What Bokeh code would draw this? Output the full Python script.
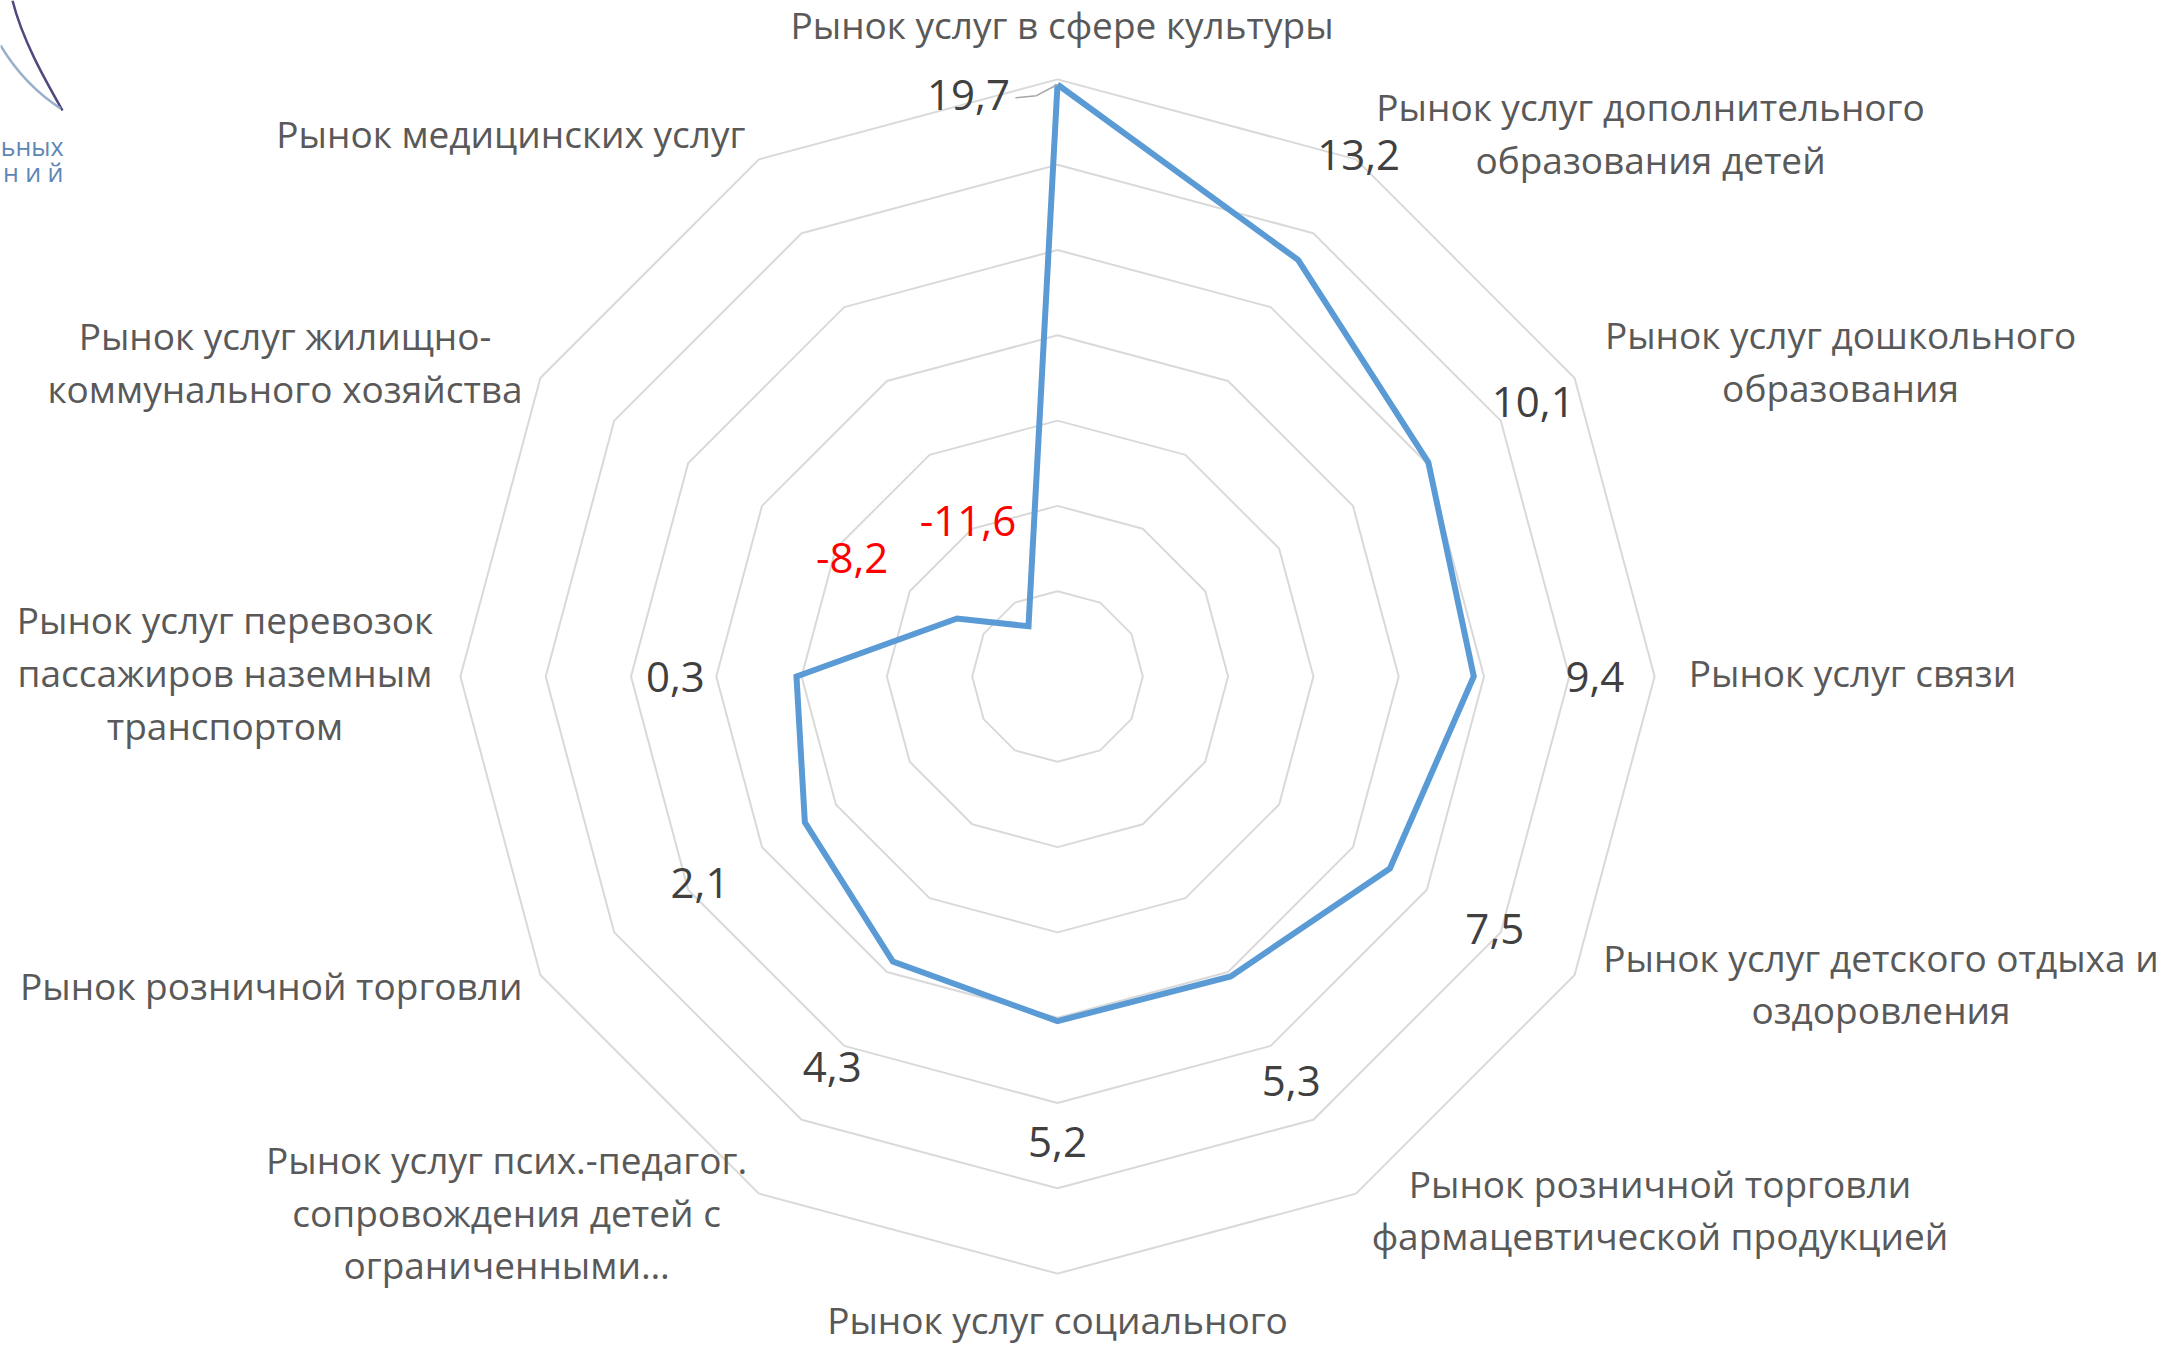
import math
from bokeh.plotting import figure
from bokeh.models import ColumnDataSource, Range1d
from bokeh.core.properties import value
from bokeh.embed import file_html
from bokeh.resources import INLINE

# ---------------- data ----------------
categories = [
    "Рынок услуг в сфере культуры",
    "Рынок услуг дополнительного\nобразования детей",
    "Рынок услуг дошкольного\nобразования",
    "Рынок услуг связи",
    "Рынок услуг детского отдыха и\nоздоровления",
    "Рынок розничной торговли\nфармацевтической продукцией",
    "Рынок услуг социального",
    "Рынок услуг псих.-педагог.\nсопровождения детей с\nограниченными…",
    "Рынок розничной торговли",
    "Рынок услуг перевозок\nпассажиров наземным\nтранспортом",
    "Рынок услуг жилищно-\nкоммунального хозяйства",
    "Рынок медицинских услуг",
]
values = [19.7, 13.2, 10.1, 9.4, 7.5, 5.3, 5.2, 4.3, 2.1, 0.3, -8.2, -11.6]
axis_min = -15
axis_max = 20
axis_step = 5

# ---------------- layout ----------------
W, H = 2169, 1347
ORIGIN = 0                   # page pixel of the canvas' top-left corner
CX, CY = 1057, 676           # radar centre in page pixels
S = 17.06                    # pixels per value unit
VALUE_LABEL_GAP = 7.1        # value units beyond the point
# category label centres (radius in value units, angle in degrees clockwise from top)
CAT_LABEL_R = [38.0, 47.0, 49.4, 46.6, 51.6, 47.3, 37.9, 45.2, 49.6, 48.8, 48.8, 45.0]
CAT_LABEL_ANG = [0.4, 47.7, 68.3, 90.0, 110.7, 131.7, 180.0, 225.6, 248.3, 270.0, 291.9, 314.6]
CAT_LINE_H = 3.08            # value units between lines
CAT_DY = 4 / S               # baseline correction (upwards)
LABEL_OVERRIDE = {0: (34.5, -8.7)}   # manually moved value label (r, deg)

GRID_COLOR = "#D9D9D9"
LINE_COLOR = "#5B9BD5"
CAT_COLOR = "#595959"
VAL_COLOR = "#404040"
NEG_COLOR = "#FF0000"
FONT = "Open Sans"

p = figure(
    width=W, height=H,
    x_range=Range1d((ORIGIN - CX) / S, (ORIGIN + W - CX) / S),
    y_range=Range1d((CY - ORIGIN - H) / S, (CY - ORIGIN) / S),
    x_axis_type=None, y_axis_type=None,
    output_backend="svg", toolbar_location=None, min_border=0,
    background_fill_color="white", border_fill_color="white",
)
p.outline_line_color = None
p.grid.visible = False

n = len(categories)
angles = [2 * math.pi * i / n for i in range(n)]


def polar(r, a):
    return r * math.sin(a), r * math.cos(a)


def px(xp, yp):
    return (xp - CX) / S, (CY - yp) / S


# grid rings
ring_xs, ring_ys = [], []
lvl = axis_min + axis_step
while lvl <= axis_max:
    r = lvl - axis_min
    pts = [polar(r, a) for a in angles]
    pts.append(pts[0])
    ring_xs.append([q[0] for q in pts])
    ring_ys.append([q[1] for q in pts])
    lvl += axis_step
p.multi_line(ring_xs, ring_ys, line_color=GRID_COLOR, line_width=2)

# series
pts = [polar(v - axis_min, a) for v, a in zip(values, angles)]
pts.append(pts[0])
p.line([q[0] for q in pts], [q[1] for q in pts], line_color=LINE_COLOR,
       line_width=6, line_join="miter")

# value labels
vx, vy, vt, vc = [], [], [], []
for i, (v, a) in enumerate(zip(values, angles)):
    if i in LABEL_OVERRIDE:
        r, d = LABEL_OVERRIDE[i]
        x, y = polar(r, math.radians(d))
    else:
        x, y = polar(v - axis_min + VALUE_LABEL_GAP, a)
    vx.append(x)
    vy.append(y)
    vt.append(f"{v:.1f}".replace(".", ","))
    vc.append(NEG_COLOR if v < 0 else VAL_COLOR)
p.text(x="x", y="y", text="t", text_color="c",
       source=ColumnDataSource(dict(x=vx, y=vy, t=vt, c=vc)),
       text_font=value(FONT), text_font_size="42px",
       text_align="center", text_baseline="middle")

# leader line for the moved label
i0 = 0
lx, ly = vx[i0], vy[i0]
ptx, pty = polar(values[i0] - axis_min, angles[i0])
p.line([lx + 47 / S, lx + 68 / S, ptx], [ly - 3 / S, ly - 1 / S, pty],
       line_color="#A6A6A6", line_width=1.5)

# category labels
cx_, cy_, ct = [], [], []
for cat, r, d in zip(categories, CAT_LABEL_R, CAT_LABEL_ANG):
    x, y = polar(r, math.radians(d))
    lines = cat.split("\n")
    k = len(lines)
    for j, ln in enumerate(lines):
        cx_.append(x)
        cy_.append(y + CAT_DY + ((k - 1) / 2 - j) * CAT_LINE_H)
        ct.append(ln)
p.text(x="x", y="y", text="t", source=ColumnDataSource(dict(x=cx_, y=cy_, t=ct)),
       text_color=CAT_COLOR, text_font=value(FONT), text_font_size="37px",
       text_align="center", text_baseline="middle")

# partial logo in the top-left corner
a0, a1, a2, a3 = px(12, 0), px(62, 110), px(22, 40), px(45, 80)
p.bezier(x0=[a0[0]], y0=[a0[1]], x1=[a1[0]], y1=[a1[1]],
         cx0=[a2[0]], cy0=[a2[1]], cx1=[a3[0]], cy1=[a3[1]],
         line_color="#3F3470", line_width=2.5, line_alpha=0.9)
b0, b1, b2, b3 = px(0, 45), px(60, 108), px(18, 75), px(40, 95)
p.bezier(x0=[b0[0]], y0=[b0[1]], x1=[b1[0]], y1=[b1[1]],
         cx0=[b2[0]], cy0=[b2[1]], cx1=[b3[0]], cy1=[b3[1]],
         line_color="#8FA6C6", line_width=2.5, line_alpha=0.9)
t1 = px(63, 145)
t2 = px(63, 171)
p.text(x=[t1[0], t2[0]], y=[t1[1], t2[1]], text=["ьных", "н и й"],
       text_color="#5E86B4", text_font=value(FONT), text_font_size="25px",
       text_align="right", text_baseline="middle")

open("out.html", "w").write(file_html(p, INLINE))
